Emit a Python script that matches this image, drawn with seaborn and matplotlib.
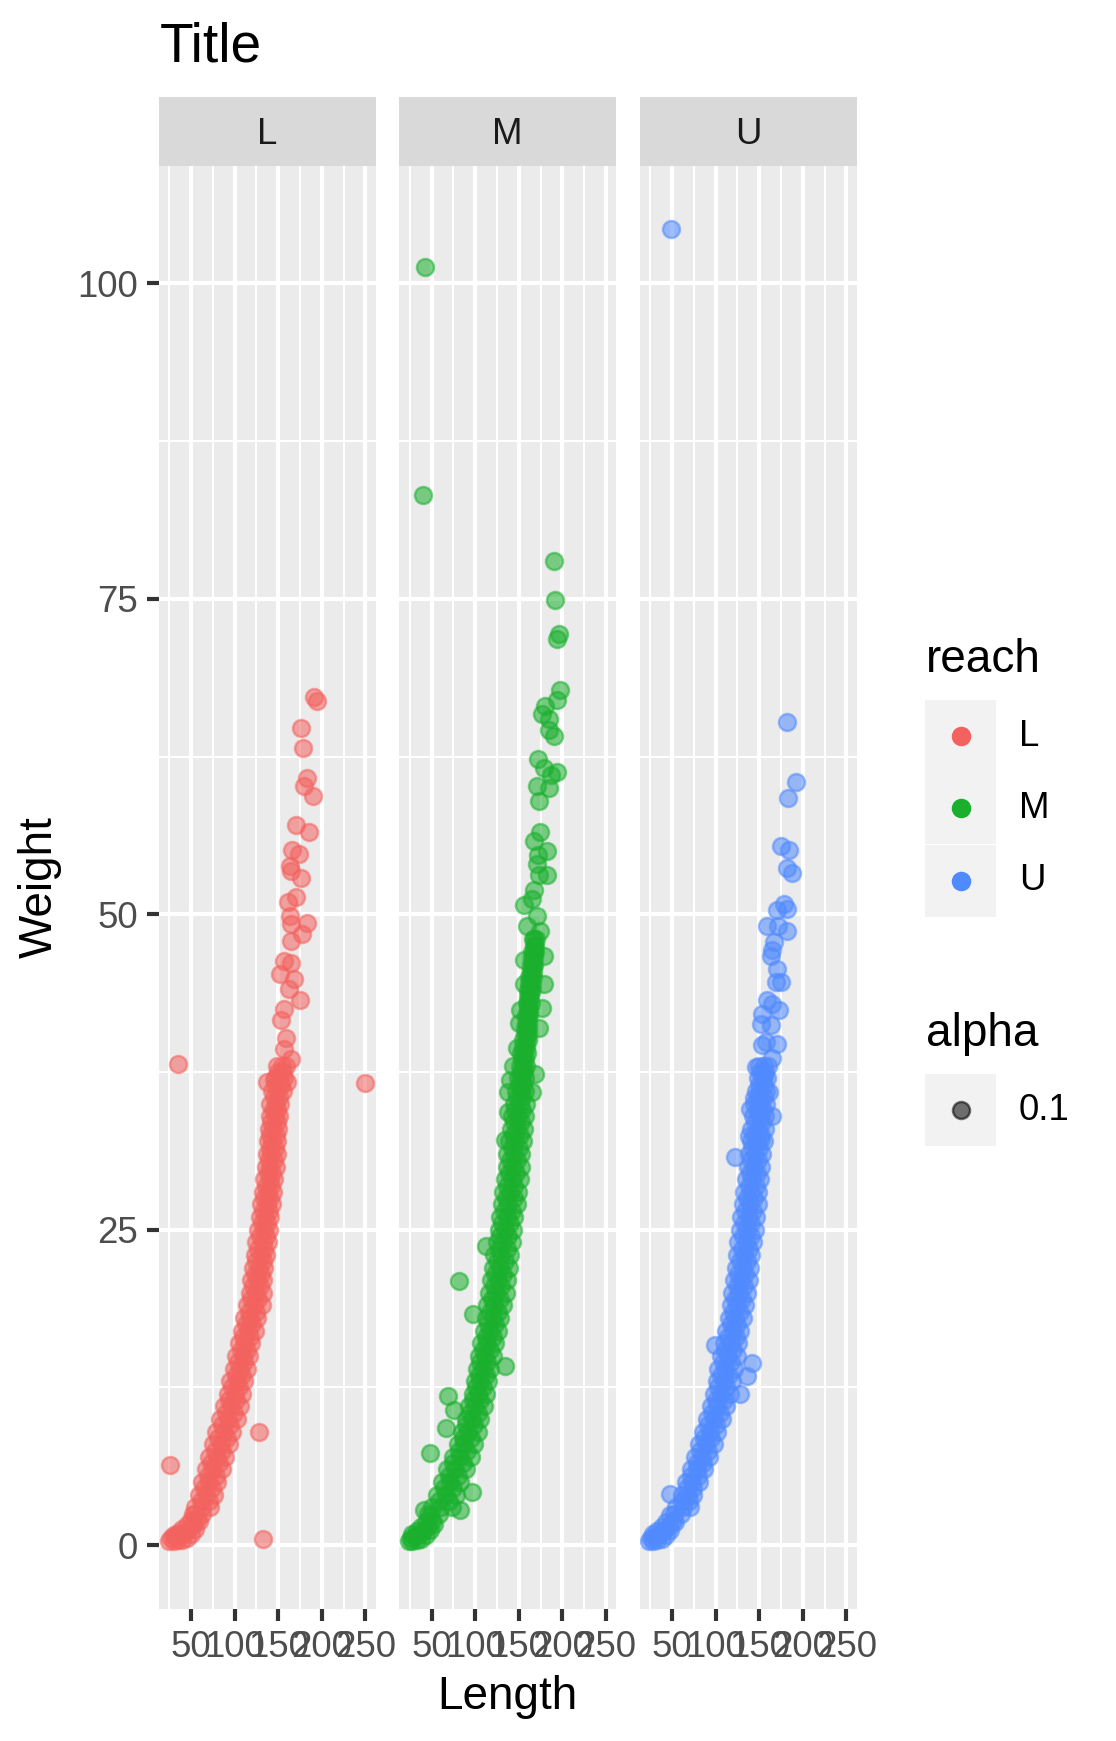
import numpy as np
import pandas as pd
import matplotlib
matplotlib.use("Agg")
import matplotlib.pyplot as plt
import seaborn as sns
from matplotlib.patches import Rectangle

# ---------------------------------------------------------------- data
reaches = ["L", "M", "U"]
reach_colors = {"L": "#F3625E", "M": "#1AB02E", "U": "#508AFF"}

# dense part of each cloud, read row by row (weight level -> lengths across the band)
wt_levels_LU = [3, 4, 5, 6, 7, 8, 9, 10, 11, 12, 13, 14, 15, 16, 17, 18, 19, 20,
                21, 22, 23, 24, 25, 26, 27, 28, 29, 30, 31, 32, 33, 34, 35, 36, 37, 38]
wt_levels_M = [3, 4, 5, 6, 7, 8, 9, 10, 11, 12, 13, 14, 15, 16, 17, 18, 19, 20,
               21, 22, 23, 24, 25, 26, 27, 28, 29, 30, 31, 32, 33, 34, 35, 36, 37, 38,
               39, 40, 41, 42, 43, 44, 45, 46, 47, 48]
half_levels_LU = [2.5, 3.5, 4.5, 5.5, 6.5, 7.5, 8.5, 9.5, 10.5, 11.5, 12.5, 13.5, 14.5,
                  15.5, 16.5, 17.5, 18.5, 19.5, 20.5, 21.5, 22.5, 23.5, 24.5, 25.5, 26.5,
                  27.5, 28.5, 29.5, 30.5, 31.5, 32.5, 33.5, 34.5, 35.5, 36.5, 37.5]
half_levels_M = [2.5, 3.5, 4.5, 5.5, 6.5, 7.5, 8.5, 9.5, 10.5, 11.5, 12.5, 13.5, 14.5,
                 15.5, 16.5, 17.5, 18.5, 19.5, 20.5, 21.5, 22.5, 23.5, 24.5, 25.5, 26.5,
                 27.5, 28.5, 29.5, 30.5, 31.5, 32.5, 33.5, 34.5, 35.5, 36.5, 37.5, 38.5,
                 39.5, 40.5, 41.5, 42.5, 43.5, 44.5, 45.5, 46.5, 47.5]

L_left = [55, 59, 63, 67, 71, 75, 79, 83, 88, 92, 95, 99, 102, 105, 108, 111, 114, 117,
          119, 121, 123, 125, 127, 129, 130, 132, 134, 136, 137, 138, 139, 140, 141, 143, 146, 149]
L_mid = [63, 67, 71, 75, 80, 84, 88, 92, 96, 100, 103, 106, 109, 112, 115, 118, 122, 124,
         126, 128, 130, 132, 134, 135, 137, 138, 140, 141, 142, 143, 144, 146, 147, 149, 151, 154]
L_right = [72, 76, 80, 85, 89, 93, 97, 103, 106, 108, 111, 114, 116, 119, 123, 126, 131, 132,
           133, 134, 136, 138, 139, 141, 143, 144, 145, 147, 148, 149, 150, 151, 152, 155, 157, 159]
L_half_a = [52, 61, 65, 69, 73, 77, 81, 85, 90, 94, 97, 101, 104, 107, 110, 113, 116, 119,
            121, 123, 125, 127, 129, 131, 133, 134, 136, 138, 139, 140, 141, 142, 144, 145, 147, 150]
L_half_b = [62, 70, 74, 78, 82, 86, 91, 95, 99, 102, 105, 108, 111, 114, 117, 120, 124, 127,
            129, 130, 132, 134, 136, 137, 139, 140, 142, 143, 145, 146, 147, 148, 149, 151, 153, 155]

M_left = [50, 56, 62, 68, 74, 80, 85, 89, 93, 97, 100, 102, 104, 107, 110, 112, 114, 116,
          118, 120, 122, 125, 127, 129, 131, 132, 134, 136, 137, 139, 141, 142, 144,
          147, 149, 151, 153, 155, 157, 158, 159, 161, 162, 164, 165, 166]
M_mid = [61, 66, 71, 77, 82, 87, 92, 96, 100, 103, 106, 109, 111, 114, 117, 120, 122, 124,
         126, 128, 130, 132, 134, 136, 138, 140, 142, 143, 145, 146, 148, 149, 151,
         152, 153, 155, 156, 158, 159, 160, 161, 163, 164, 166, 167, 168]
M_right = [73, 78, 83, 90, 95, 99, 103, 106, 110, 112, 115, 117, 120, 123, 126, 129, 132, 135,
           137, 139, 140, 142, 143, 145, 148, 149, 151, 152, 153, 155, 156, 157, 158,
           157, 157, 158, 159, 160, 161, 162, 164, 165, 166, 168, 169, 170]
M_half_a = [46, 58, 64, 70, 75, 81, 86, 90, 94, 98, 101, 104, 106, 109, 112, 115, 117, 119,
            121, 123, 125, 127, 129, 131, 133, 135, 137, 139, 140, 142, 143, 145, 146, 148,
            150, 152, 154, 155, 157, 158, 160, 161, 162, 164, 165, 167]
M_half_b = [58, 70, 75, 80, 86, 91, 95, 99, 103, 106, 109, 112, 114, 117, 120, 123, 126, 128,
            130, 132, 134, 136, 138, 140, 142, 144, 145, 147, 148, 150, 151, 152, 154, 154,
            155, 156, 157, 158, 160, 161, 162, 163, 165, 166, 168, 169]

U_left = [55, 61, 66, 72, 76, 81, 85, 90, 95, 98, 101, 103, 106, 109, 112, 115, 117, 119,
          121, 123, 125, 126, 128, 129, 131, 133, 135, 137, 138, 140, 141, 143, 144, 146, 148, 150]
U_mid = [62, 68, 73, 79, 84, 89, 93, 98, 102, 106, 109, 111, 114, 117, 120, 122, 125, 127,
         129, 131, 133, 135, 136, 138, 139, 141, 142, 144, 145, 147, 148, 150, 151, 151, 153, 155]
U_right = [70, 74, 81, 87, 92, 98, 102, 107, 112, 116, 119, 121, 124, 126, 128, 131, 134, 136,
           138, 139, 141, 143, 145, 146, 148, 149, 151, 152, 153, 155, 156, 157, 158, 158, 159, 160]
U_half_a = [52, 61, 67, 72, 78, 82, 87, 91, 96, 100, 103, 106, 108, 111, 114, 117, 120, 122,
            124, 126, 128, 130, 131, 133, 134, 136, 138, 139, 141, 142, 144, 145, 147, 148, 150, 151]
U_half_b = [60, 69, 74, 80, 86, 91, 95, 100, 105, 109, 112, 115, 117, 120, 123, 125, 128, 130,
            132, 134, 136, 138, 140, 141, 143, 144, 146, 147, 149, 150, 152, 153, 154, 155, 155, 157]

# flat bottom of each cloud
L_base_len = [25, 30, 30, 35, 35, 40, 40, 45, 45, 50, 50, 55, 55, 59, 27, 32, 37, 42, 47, 52, 57]
L_base_wt = [0.3, 0.3, 0.8, 0.4, 1.0, 0.4, 1.3, 0.6, 1.6, 0.9, 2.0, 1.3, 2.5, 1.9,
             0.6, 0.7, 0.8, 1.0, 1.2, 1.6, 2.1]
M_base_len = [24, 28, 28, 33, 33, 38, 38, 43, 43, 48, 48, 53, 26, 31, 36, 41, 46, 51]
M_base_wt = [0.3, 0.3, 0.9, 0.4, 1.1, 0.5, 1.4, 0.8, 1.8, 1.2, 2.3, 1.7,
             0.6, 0.7, 0.9, 1.2, 1.5, 1.9]
U_base_len = [24, 28, 28, 33, 33, 38, 38, 43, 43, 48, 48, 53, 26, 31, 36, 41, 46, 51]
U_base_wt = [0.3, 0.3, 0.9, 0.4, 1.1, 0.5, 1.4, 0.8, 1.8, 1.2, 2.4, 1.8,
             0.6, 0.7, 0.9, 1.2, 1.5, 1.9]

# sparse upper tail and outliers
L_tail_len = [191, 194.8, 176.4, 178.7, 183.3, 179.5, 189.5, 169.9, 185.2, 166.1, 173.7, 163.4,
              164.2, 175.7, 169.9, 161.1, 163.4, 164.2, 183.3, 177.6, 164.2, 156.5, 164.2, 151.9,
              168.0, 162.2, 174.9, 156.5, 152.7, 158.4, 156.5, 164.2, 145.0, 160.3, 137.3,
              34.6, 249.3, 26.1, 127.7, 132.7]
L_tail_wt = [67.2, 66.9, 64.8, 63.2, 60.8, 60.2, 59.4, 57.1, 56.5, 55.1, 54.8, 53.8,
             53.4, 52.9, 51.4, 51.0, 49.9, 49.2, 49.3, 48.4, 47.9, 46.3, 46.1, 45.3,
             44.9, 44.1, 43.2, 42.5, 41.6, 40.2, 39.3, 38.5, 36.9, 36.7, 36.7,
             38.1, 36.6, 6.35, 9.0, 0.45]

M_tail_len = [42.5, 40.6, 190.7, 191.9, 196.1, 194.2, 197.3, 194.2, 179.5, 176.8, 184.5, 184.5,
              190.3, 171.7, 178.7, 193.4, 186.5, 171, 184.5, 172.9, 174.1, 167.1, 182.6, 171.7,
              171, 182.6, 172.9, 167.1, 165.2, 155.5, 171, 159.4, 174.9, 178.7, 155.5, 155.5,
              178.7, 151.6, 176.8, 149.7, 172.9, 147.8, 143.9, 169, 140, 165.2, 138.1, 138.1,
              134.2, 81.2, 97.4, 112.2, 134.2, 68.4, 76.2, 66.5, 47.9, 41.3, 96.7, 82]
M_tail_wt = [101.3, 83.2, 78.0, 74.9, 72.2, 71.8, 67.8, 67.0, 66.5, 65.9, 65.5, 64.6,
             64.1, 62.3, 61.6, 61.3, 61.0, 60.2, 60.0, 59.0, 56.5, 55.8, 55.0, 54.7,
             54.0, 53.1, 53.1, 51.9, 51.2, 50.7, 49.9, 49.1, 48.7, 46.7, 46.4, 44.5,
             44.5, 42.4, 42.6, 41.4, 41.0, 39.4, 38.0, 37.3, 36.9, 35.9, 35.9, 34.3,
             32.1, 20.9, 18.3, 23.7, 14.2, 11.8, 10.7, 9.3, 7.3, 2.8, 4.2, 2.8]

U_tail_len = [48.2, 182.3, 192, 183.5, 174.6, 184.2, 182.3, 187, 178.5, 182.3, 170.7, 159.2,
              171.5, 182.3, 166.9, 165, 163, 170, 174.6, 168.8, 159.2, 165, 172.7, 153.4,
              151.5, 163, 157.2, 170.7, 153.4, 165, 145.7, 155.3, 143.7, 161.1, 139.9, 165,
              138, 151.5, 122.5, 141.8, 136, 127.5, 47.3, 99.4]
U_tail_wt = [104.3, 65.2, 60.5, 59.2, 55.4, 55.1, 53.7, 53.3, 50.8, 50.4, 50.3, 49.1,
             49.1, 48.7, 47.8, 47.2, 46.7, 45.7, 44.6, 44.6, 43.2, 42.9, 42.4, 42.1,
             41.3, 41.2, 39.9, 39.7, 39.6, 38.6, 37.9, 37.2, 35.4, 35.9, 34.6, 34.0,
             32.4, 32.2, 30.8, 14.4, 13.4, 12.0, 4.05, 15.9]

x_major = [50, 100, 150, 200, 250]
x_minor = [25, 75, 125, 175, 225]
y_major = [0, 25, 50, 75, 100]
y_minor = [12.5, 37.5, 62.5, 87.5]


def panel_frame(reach, rows, halves, base, tail):
    lengths = list(base[0]) + list(tail[0])
    weights = list(base[1]) + list(tail[1])
    levels, left, mid, right = rows
    for w, a, b, c in zip(levels, left, mid, right):
        lengths += [a, b, c]
        weights += [w, w, w]
    hlevels, ha, hb = halves
    for w, a, b in zip(hlevels, ha, hb):
        lengths += [a, b]
        weights += [w, w]
    return pd.DataFrame({"Length": lengths, "Weight": weights, "reach": reach})


df = pd.concat([
    panel_frame("L", (wt_levels_LU, L_left, L_mid, L_right), (half_levels_LU, L_half_a, L_half_b),
                (L_base_len, L_base_wt), (L_tail_len, L_tail_wt)),
    panel_frame("M", (wt_levels_M, M_left, M_mid, M_right), (half_levels_M, M_half_a, M_half_b),
                (M_base_len, M_base_wt), (M_tail_len, M_tail_wt)),
    panel_frame("U", (wt_levels_LU, U_left, U_mid, U_right), (half_levels_LU, U_half_a, U_half_b),
                (U_base_len, U_base_wt), (U_tail_len, U_tail_wt)),
], ignore_index=True)

# ---------------------------------------------------------------- figure
plt.rcParams["font.family"] = ["Liberation Sans", "DejaVu Sans"]
W, H = 1116, 1741
fig = plt.figure(figsize=(W / 100, H / 100), dpi=100)


def box(x0, y0, x1, y1):
    return [x0 / W, 1 - y1 / H, (x1 - x0) / W, (y1 - y0) / H]


panel_x = [(158.5, 375.5), (399, 616), (639.5, 856.5)]
panel_y = (166, 1609)
strip_y = (96.5, 166)

for i, r in enumerate(reaches):
    x0, x1 = panel_x[i]
    ax = fig.add_axes(box(x0, panel_y[0], x1, panel_y[1]))
    sub = df[df["reach"] == r]
    sns.scatterplot(data=sub, x="Length", y="Weight", color=reach_colors[r],
                    edgecolor=reach_colors[r], alpha=0.55, s=150, linewidth=1.8,
                    legend=False, ax=ax)
    ax.set_facecolor("#EBEBEB")
    ax.set_xlim(12.6, 261.5)
    ax.set_ylim(-5.06, 109.3)
    ax.set_xticks(x_major)
    ax.set_xticks(x_minor, minor=True)
    ax.set_yticks(y_major)
    ax.set_yticks(y_minor, minor=True)
    ax.grid(which="major", color="white", linewidth=3.0)
    ax.grid(which="minor", color="white", linewidth=1.5)
    ax.set_axisbelow(True)
    for sp in ax.spines.values():
        sp.set_visible(False)
    ax.tick_params(which="major", length=8.3, width=3.0, color="#333333",
                   labelcolor="#4D4D4D", labelsize=26.4, pad=6.6)
    ax.tick_params(which="minor", length=0)
    if i > 0:
        ax.tick_params(axis="y", which="both", length=0, labelleft=False)
    ax.set_xlabel("")
    ax.set_ylabel("")

    st = fig.add_axes(box(x0, strip_y[0], x1, strip_y[1]))
    st.set_facecolor("#D9D9D9")
    st.set_xticks([])
    st.set_yticks([])
    for sp in st.spines.values():
        sp.set_visible(False)
    st.text(0.5, 0.45, r, ha="center", va="center", fontsize=26.4, color="#1A1A1A",
            transform=st.transAxes)

fig.text(160 / W, 1 - 62 / H, "Title", fontsize=39.6, ha="left", va="baseline")
fig.text(507 / W, 1 - 1709 / H, "Length", fontsize=33, ha="center", va="baseline")
fig.text(40 / W, 1 - 887 / H, "Weight", fontsize=33, ha="center", va="center", rotation=90)

# ---------------------------------------------------------------- legends
lg = fig.add_axes([0, 0, 1, 1])
lg.set_xlim(0, W)
lg.set_ylim(H, 0)
lg.axis("off")

lg.text(926, 672, "reach", fontsize=33, ha="left", va="baseline")
key_centers = [736, 808, 881]
for r, yc in zip(reaches, key_centers):
    lg.add_patch(Rectangle((925, yc - 36), 71, 72, facecolor="#F2F2F2", edgecolor="none"))
    lg.scatter([960.5], [yc], s=150, color=reach_colors[r], edgecolor=reach_colors[r],
               linewidth=1.8, zorder=3)
    lg.text(1019, yc, r, fontsize=26.4, ha="left", va="center")

lg.text(926, 1046, "alpha", fontsize=33, ha="left", va="baseline")
lg.add_patch(Rectangle((925, 1074), 71, 72, facecolor="#F2F2F2", edgecolor="none"))
lg.scatter([960.5], [1110], s=150, color="black", edgecolor="black", alpha=0.55,
           linewidth=1.8, zorder=3)
lg.text(1019, 1110, "0.1", fontsize=26.4, ha="left", va="center")

fig.savefig("out.png", dpi=100)
